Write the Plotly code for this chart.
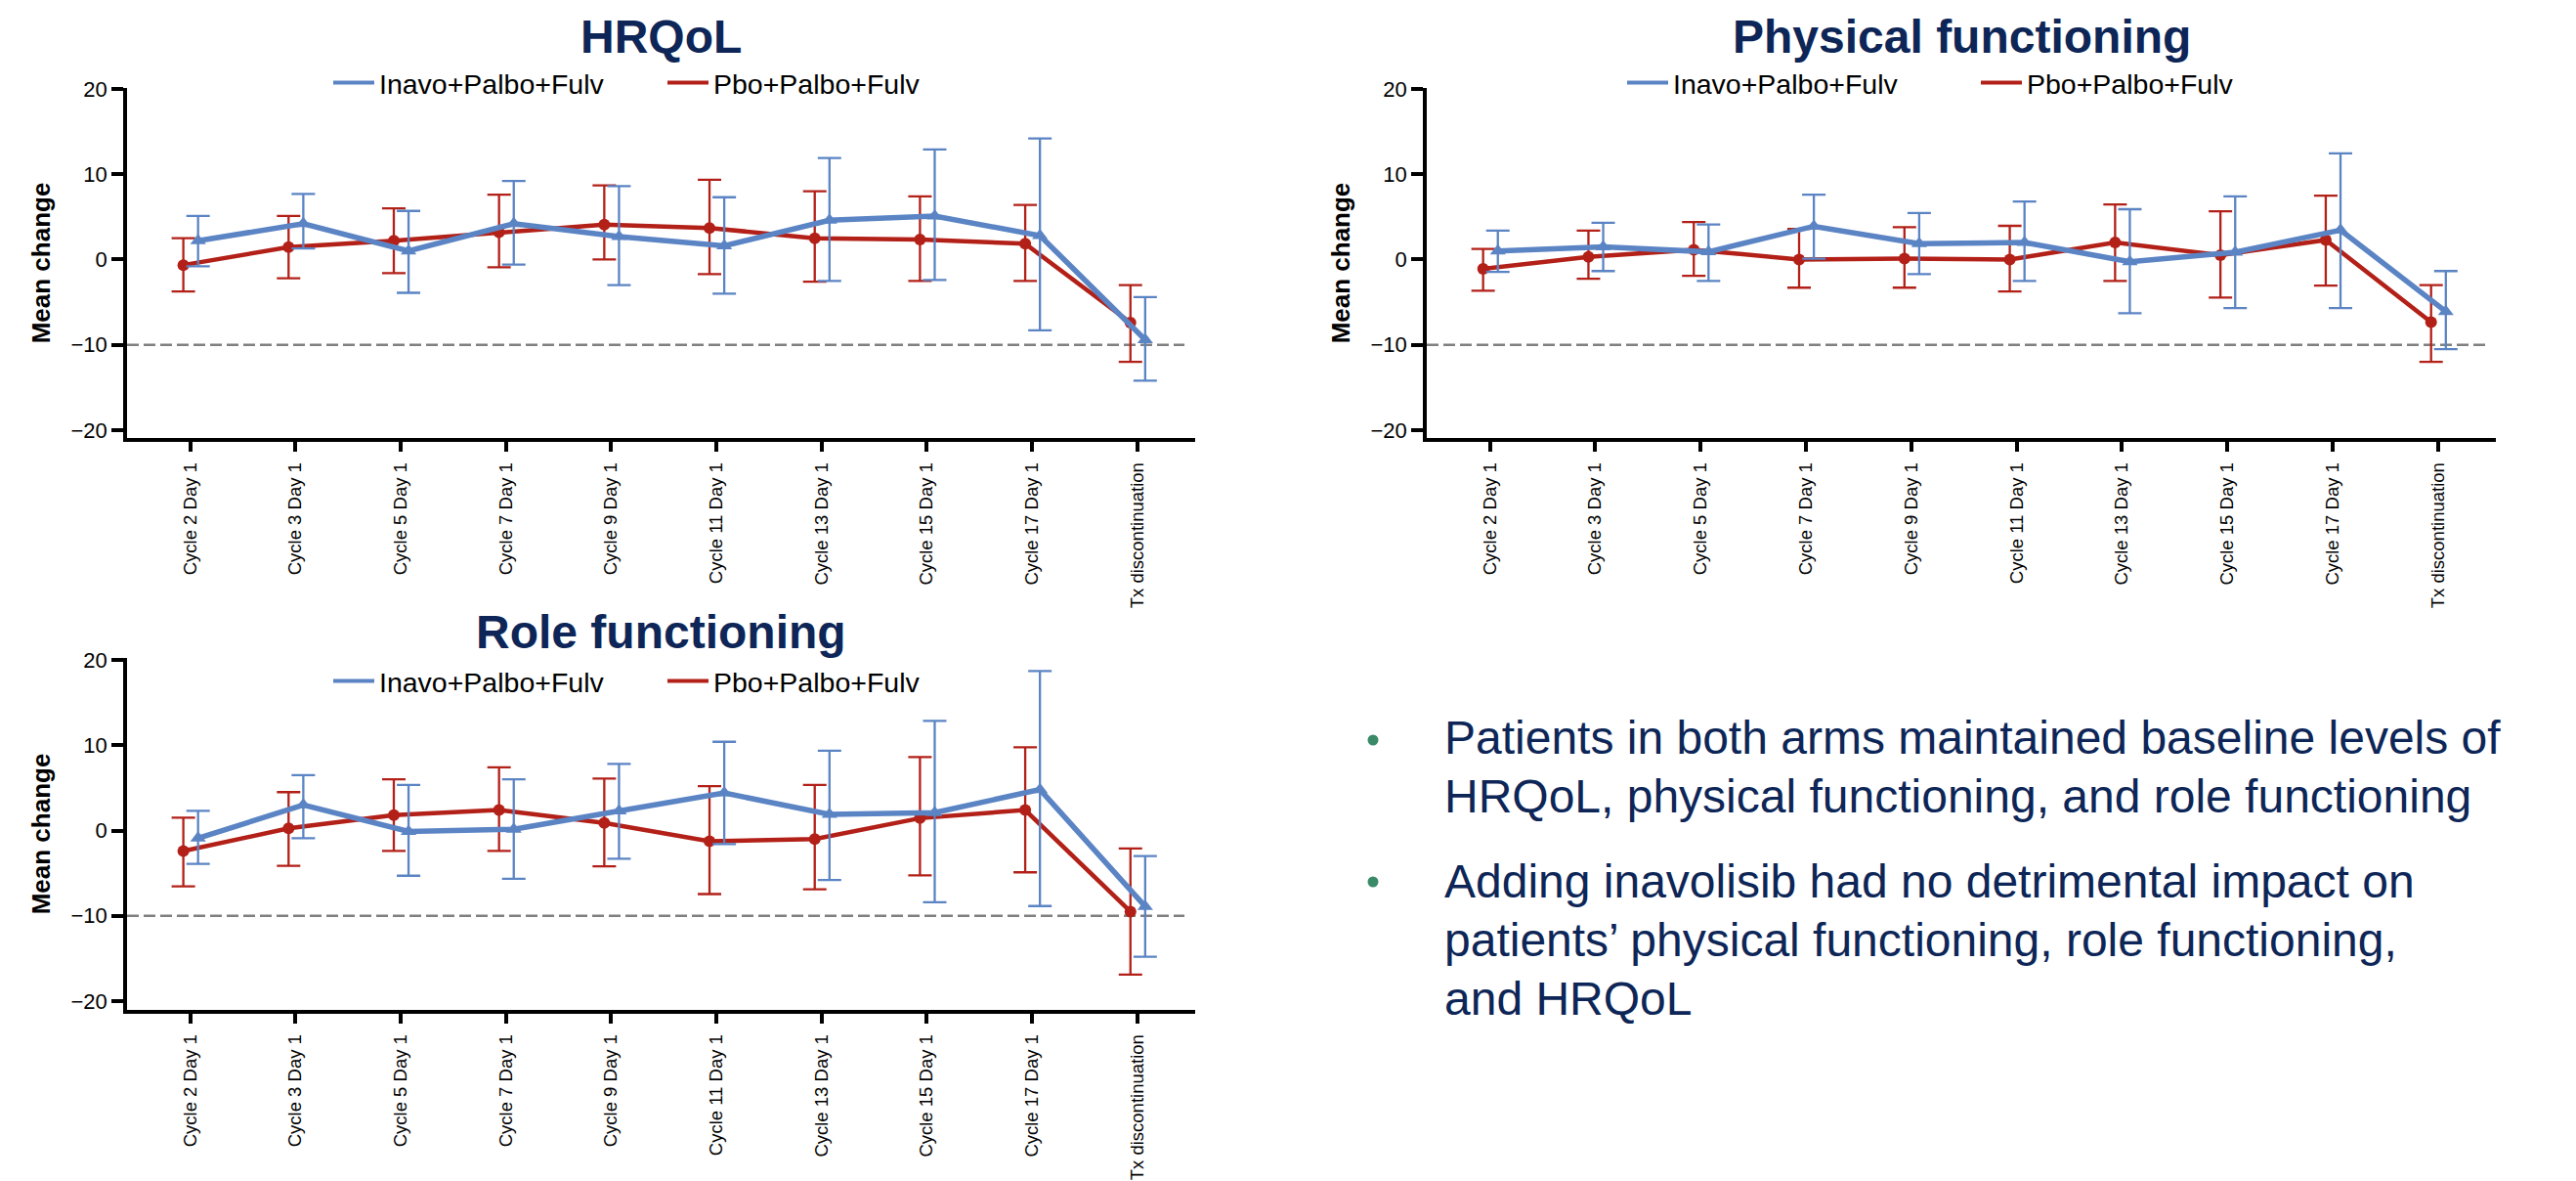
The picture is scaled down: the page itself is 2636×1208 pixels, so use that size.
import numpy as np
import plotly.graph_objects as go

W, H = 2636, 1208
FONT = "Liberation Sans, Arial, Helvetica, sans-serif"
NAVY = "#0d2657"
BLUE = "#5b84c4"
RED = "#b22018"

categories = ["Cycle 2 Day 1", "Cycle 3 Day 1", "Cycle 5 Day 1", "Cycle 7 Day 1",
              "Cycle 9 Day 1", "Cycle 11 Day 1", "Cycle 13 Day 1", "Cycle 15 Day 1",
              "Cycle 17 Day 1", "Tx discontinuation"]
arms = ["Inavo+Palbo+Fulv", "Pbo+Palbo+Fulv"]
panel_titles = ["HRQoL", "Physical functioning", "Role functioning"]
y_ticks = [-20, -10, 0, 10, 20]
threshold = -10

# HRQoL
hrqol_inavo_mean = [2.2, 4.2, 1.0, 4.2, 2.7, 1.6, 4.6, 5.1, 2.8, -9.4]
hrqol_inavo_upper = [5.1, 7.7, 5.7, 9.2, 8.6, 7.3, 11.9, 12.9, 14.2, -4.4]
hrqol_inavo_lower = [-0.8, 1.3, -3.9, -0.6, -3.0, -4.0, -2.5, -2.4, -8.3, -14.2]
hrqol_pbo_mean = [-0.65, 1.45, 2.2, 3.2, 4.1, 3.7, 2.5, 2.35, 1.85, -7.4]
hrqol_pbo_upper = [2.5, 5.1, 6.0, 7.6, 8.7, 9.35, 8.0, 7.4, 6.4, -3.0]
hrqol_pbo_lower = [-3.75, -2.2, -1.6, -0.9, 0.0, -1.7, -2.6, -2.5, -2.5, -12.0]

# Physical functioning
phys_inavo_mean = [1.0, 1.5, 0.9, 3.9, 1.85, 2.0, -0.25, 0.85, 3.45, -6.1]
phys_inavo_upper = [3.4, 4.3, 4.1, 7.6, 5.45, 6.8, 5.9, 7.4, 12.45, -1.35]
phys_inavo_lower = [-1.45, -1.35, -2.5, 0.1, -1.7, -2.5, -6.3, -5.7, -5.7, -10.5]
phys_pbo_mean = [-1.1, 0.3, 1.15, 0.0, 0.1, 0.0, 2.0, 0.5, 2.3, -7.35]
phys_pbo_upper = [1.25, 3.4, 4.4, 3.6, 3.8, 3.95, 6.45, 5.65, 7.5, -3.0]
phys_pbo_lower = [-3.65, -2.25, -1.9, -3.3, -3.3, -3.75, -2.5, -4.45, -3.05, -12.0]

# Role functioning
role_inavo_mean = [-0.9, 3.0, -0.1, 0.15, 2.3, 4.4, 1.9, 2.1, 4.8, -8.9]
role_inavo_upper = [2.3, 6.5, 5.35, 6.0, 7.8, 10.4, 9.35, 12.85, 18.7, -3.0]
role_inavo_lower = [-3.9, -0.9, -5.3, -5.65, -3.3, -1.6, -5.8, -8.4, -8.85, -14.8]
role_pbo_mean = [-2.4, 0.25, 1.8, 2.4, 0.9, -1.25, -1.0, 1.45, 2.4, -9.5]
role_pbo_upper = [1.5, 4.5, 6.0, 7.4, 6.1, 5.2, 5.35, 8.6, 9.75, -2.1]
role_pbo_lower = [-6.55, -4.15, -2.4, -2.4, -4.2, -7.45, -6.9, -5.25, -4.9, -16.9]

bullet_lines = [
    ["Patients in both arms maintained baseline levels of",
     "HRQoL, physical functioning, and role functioning"],
    ["Adding inavolisib had no detrimental impact on",
     "patients\u2019 physical functioning, role functioning,",
     "and HRQoL"],
]


def px_x(p):
    return p / W


def px_y(p):
    return 1 - p / H


panels = [
    dict(suffix="", legend="legend",
         xpx=(130, 1223), ypx=(90, 448), yrange=[-20.92, 20.11],
         inavo=(hrqol_inavo_mean, hrqol_inavo_upper, hrqol_inavo_lower),
         pbo=(hrqol_pbo_mean, hrqol_pbo_upper, hrqol_pbo_lower)),
    dict(suffix="2", legend="legend2",
         xpx=(1460, 2554), ypx=(90, 448), yrange=[-20.92, 20.11],
         inavo=(phys_inavo_mean, phys_inavo_upper, phys_inavo_lower),
         pbo=(phys_pbo_mean, phys_pbo_upper, phys_pbo_lower)),
    dict(suffix="3", legend="legend3",
         xpx=(130, 1223), ypx=(673, 1033), yrange=[-21.03, 20.23],
         inavo=(role_inavo_mean, role_inavo_upper, role_inavo_lower),
         pbo=(role_pbo_mean, role_pbo_upper, role_pbo_lower)),
]

fig = go.Figure()
idx = np.arange(len(categories))
offsets = {"pbo": -0.065, "inavo": 0.075}

layout_axes = {}
annotations = []
shapes = []

for p, title in zip(panels, panel_titles):
    xa = "x" + p["suffix"]
    ya = "y" + p["suffix"]
    for key, color, symbol, msize, lw, arm in [
        ("pbo", RED, "circle", 12, 4.5, arms[1]),
        ("inavo", BLUE, "triangle-up", 14, 5.5, arms[0]),
    ]:
        mean, upper, lower = p[key]
        mean = np.array(mean)
        fig.add_trace(go.Scatter(
            x=idx + offsets[key], y=mean, mode="lines+markers",
            line=dict(color=color, width=lw),
            marker=dict(symbol=symbol, size=msize, color=color),
            error_y=dict(type="data", symmetric=False,
                         array=np.array(upper) - mean,
                         arrayminus=mean - np.array(lower),
                         color=color, thickness=2.3, width=12),
            xaxis=xa, yaxis=ya, showlegend=False, name=arm,
        ))
    # legend entries (line only)
    for arm, color in [(arms[0], BLUE), (arms[1], RED)]:
        fig.add_trace(go.Scatter(
            x=[None], y=[None], mode="lines", name=arm,
            line=dict(color=color, width=4),
            xaxis=xa, yaxis=ya, legend=p["legend"], showlegend=True,
        ))

    x0, x1 = p["xpx"]
    yt, yb = p["ypx"]
    layout_axes["xaxis" + p["suffix"]] = dict(
        domain=[px_x(x0), px_x(x1)], anchor=ya, range=[-0.6, 9.55],
        tickmode="array", tickvals=list(idx), ticktext=categories, tickangle=-90,
        showline=True, linecolor="black", linewidth=3.5,
        ticks="outside", ticklen=10, tickwidth=3.5, tickcolor="black",
        ticklabelstandoff=4,
        showgrid=False, zeroline=False, automargin=False,
        tickfont=dict(size=18.5, color="black", family=FONT),
    )
    layout_axes["yaxis" + p["suffix"]] = dict(
        domain=[px_y(yb), px_y(yt)], anchor=xa, range=p["yrange"],
        tickmode="array", tickvals=y_ticks,
        showline=True, linecolor="black", linewidth=3.5,
        ticks="outside", ticklen=12, tickwidth=3.5, tickcolor="black",
        showgrid=False, zeroline=False, automargin=False,
        tickfont=dict(size=22, color="black", family=FONT),
        title=dict(text="Mean change", standoff=14,
                   font=dict(size=26, color="black", family=FONT, weight="bold")),
    )
    shapes.append(dict(type="line", xref=xa + " domain", yref=ya,
                       x0=0, x1=0.99, y0=threshold, y1=threshold,
                       line=dict(color="#808080", width=2.5, dash="12px,5px"),
                       layer="below"))
    annotations.append(dict(
        text=title, xref="paper", yref="paper",
        x=px_x((x0 + x1) / 2), y=px_y(yt - 53 if p["suffix"] != "3" else yt - 27),
        xanchor="center", yanchor="middle", showarrow=False,
        font=dict(size=48, color=NAVY, family=FONT, weight="bold"),
    ))

legend_common = dict(orientation="h", xanchor="left", yanchor="middle",
                     font=dict(size=28.5, color="black", family=FONT),
                     bgcolor="rgba(0,0,0,0)", itemwidth=42,
                     traceorder="normal")
legends = {
    "legend": dict(x=px_x(336), y=px_y(85), entrywidth=285, **legend_common),
    "legend2": dict(x=px_x(1660), y=px_y(85), entrywidth=305, **legend_common),
    "legend3": dict(x=px_x(336), y=px_y(697), entrywidth=285, **legend_common),
}

# Bullet text
line_y = [[754, 814], [901, 961, 1021]]
bullet_y = [757, 902]
for lines, ys, by in zip(bullet_lines, line_y, bullet_y):
    for t, yy in zip(lines, ys):
        annotations.append(dict(
            text=t, xref="paper", yref="paper", x=px_x(1476), y=px_y(yy),
            xanchor="left", yanchor="middle", showarrow=False,
            font=dict(size=48, color=NAVY, family=FONT),
        ))
    shapes.append(dict(type="circle", xref="paper", yref="paper",
                       x0=px_x(1399.5), x1=px_x(1410.5),
                       y0=px_y(by + 5.5), y1=px_y(by - 5.5),
                       fillcolor="#3a8a68", line=dict(width=0)))

fig.update_layout(
    width=W, height=H, margin=dict(l=0, r=0, t=0, b=0, autoexpand=False),
    paper_bgcolor="white", plot_bgcolor="white",
    font=dict(family=FONT, color="black"),
    shapes=shapes, annotations=annotations,
    **layout_axes, **legends,
)

fig.write_html("out.html", config={"displayModeBar": False},
               post_script="document.body.style.margin='0px';document.body.style.overflow='hidden';")
